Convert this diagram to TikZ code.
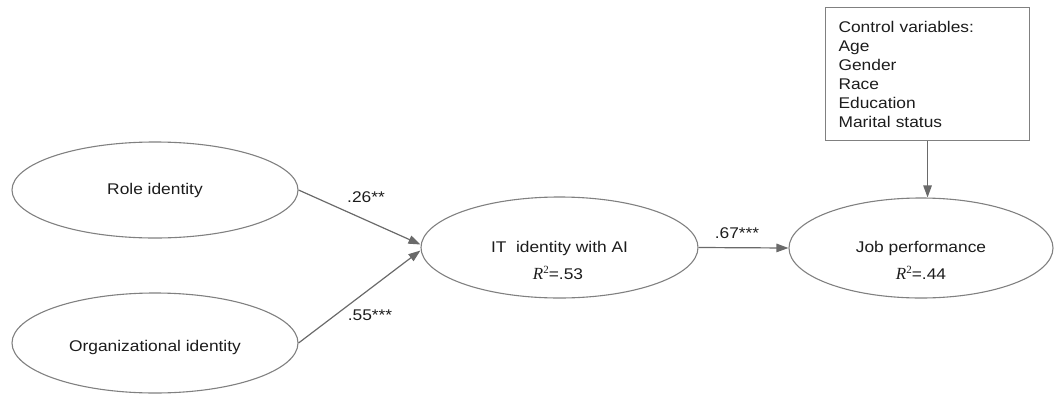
\documentclass[tikz,border=0pt]{standalone}
\usepackage{fontspec}
\setmainfont[FakeStretch=1.12]{Liberation Sans}
\newfontfamily\rfont{Liberation Serif}
\usetikzlibrary{shapes.geometric,arrows.meta}
\definecolor{edgegray}{HTML}{808080}
\definecolor{arrgray}{HTML}{6A6A6A}
\definecolor{txt}{HTML}{1C1C1C}
\newcommand{\rsq}{{\rfont\itshape\fontsize{17}{17}\selectfont R}\raisebox{6pt}{\rfont\fontsize{11}{11}\selectfont 2}}
\begin{document}
\begin{tikzpicture}[x=1pt,y=-1pt,
  every node/.style={font=\fontsize{15.5}{19}\selectfont, text=txt},
  construct/.style={draw=edgegray, line width=1.1pt, ellipse, inner sep=0pt},
  ctrlbox/.style={draw=edgegray, line width=1.1pt, rectangle, anchor=north west,
     minimum width=204pt, minimum height=133pt, text width=178pt, inner xsep=13pt, align=left},
  path/.style={draw=arrgray, line width=1.2pt, -{Triangle[length=12pt,width=8.5pt]}},
  coef/.style={inner sep=0pt},
  lab/.style={inner sep=0pt}
]
\useasboundingbox (0,0) rectangle (1055,394);
\node[construct, minimum width=286pt, minimum height=96pt] (role) at (155,190) {};
\node[lab] (rolelab) at (155,190) {Role identity};
\node[construct, minimum width=286pt, minimum height=100pt] (org) at (155,343) {};
\node[lab] (orglab) at (155,347) {Organizational identity};
\node[construct, minimum width=277pt, minimum height=101pt] (it) at (559.5,247.5) {};
\node[lab] (itlab) at (559.5,248) {IT\ \ identity with AI};
\node[lab] (itr) at (558,273) {\rsq=.53};
\node[construct, minimum width=264pt, minimum height=100pt] (job) at (921,248) {};
\node[lab] (joblab) at (921,248) {Job performance};
\node[lab] (jobr) at (921,273) {\rsq=.44};
\node[ctrlbox] (ctrl) at (825,7) {Control variables:\\Age\\Gender\\Race\\Education\\Marital status};

\draw[path] (role.east) -- ([yshift=3pt]it.west);
\draw[path] (org.east) -- ([yshift=-3pt]it.west);
\draw[path] (it.east) -- (job.west);
\draw[path] (ctrl.south) -- (ctrl.south |- job.north);
\node[coef] (c1) at (366,197) {.26**};
\node[coef] (c2) at (370,315) {.55***};
\node[coef] (c3) at (737,233) {.67***};
\end{tikzpicture}
\end{document}
